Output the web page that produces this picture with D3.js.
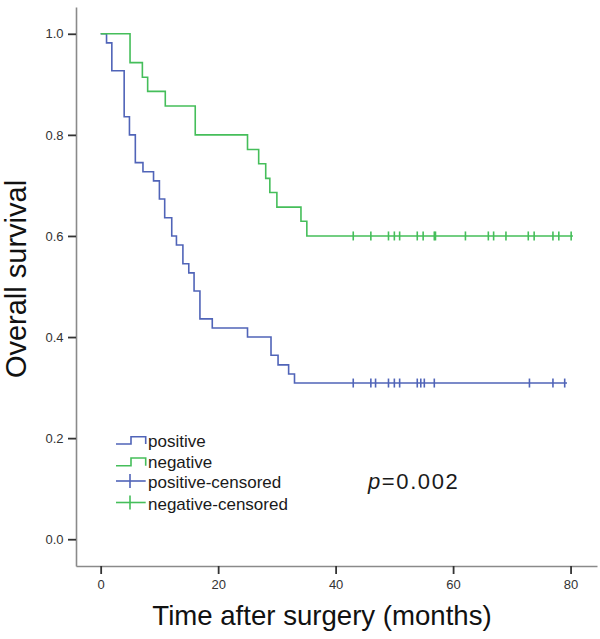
<!DOCTYPE html>
<html>
<head>
<meta charset="utf-8">
<script src="https://cdn.jsdelivr.net/npm/d3@7"></script>
<style>
  html, body { margin: 0; padding: 0; background: #fff; }
  svg { display: block; font-family: Arial, "Liberation Sans", sans-serif; }
</style>
</head>
<body>
<svg id="chart" width="600" height="639"></svg>
<script>
// ---- data ----
const posTimes = [0, 1.0, 1.9, 4.0, 4.9, 5.9, 7.2, 9.0, 10.0, 10.9, 12.1, 12.9, 14.0, 15.0, 15.9, 16.9, 19.0, 25.0, 29.0, 30.2, 32.0, 33.0];
const posSurv  = [1.0, 0.982, 0.927, 0.836, 0.800, 0.745, 0.727, 0.709, 0.673, 0.636, 0.600, 0.582, 0.545, 0.527, 0.491, 0.436, 0.418, 0.400, 0.364, 0.345, 0.327, 0.309];
const posCensored = [43.0, 46.0, 46.8, 49.0, 50.0, 50.9, 53.9, 54.5, 55.1, 56.8, 73.0, 77.0, 79.0];
const posEnd = 79.4;

const negTimes = [0, 5.0, 7.1, 8.0, 11.0, 16.1, 25.0, 26.9, 28.1, 28.8, 30.0, 34.1, 35.1];
const negSurv  = [1.0, 0.943, 0.914, 0.886, 0.857, 0.800, 0.771, 0.743, 0.714, 0.686, 0.657, 0.629, 0.600];
const negCensored = [43.0, 46.0, 49.0, 50.0, 50.9, 53.9, 54.9, 56.8, 57.0, 62.1, 66.0, 66.9, 69.0, 72.8, 73.8, 77.0, 78.0, 80.1];
const negEnd = 80.4;

const xTicks = [0, 20, 40, 60, 80];
const yTicks = [0.0, 0.2, 0.4, 0.6, 0.8, 1.0];
const legendLabels = ["positive", "negative", "positive-censored", "negative-censored"];
const pValueText = "0.002";

// ---- styles ----
const BLUE = "#5064b8";
const GREEN = "#45be5a";

const svg = d3.select("#chart");

const x = d3.scaleLinear().domain([-4.2, 84.5]).range([76, 597]);
const y = d3.scaleLinear().domain([-0.053, 1.053]).range([566, 7]);

// axes
const xAxis = d3.axisBottom(x).tickValues(xTicks).tickFormat(d3.format("d"))
  .tickSize(8).tickSizeOuter(0).tickPadding(6);
const yAxis = d3.axisLeft(y).tickValues(yTicks).tickFormat(d3.format(".1f"))
  .tickSize(8).tickSizeOuter(0).tickPadding(4.5);

const gx = svg.append("g").attr("transform", `translate(0,${y.range()[0]})`).call(xAxis);
const gy = svg.append("g").attr("transform", `translate(${x.range()[0]},0)`).call(yAxis);

[gx, gy].forEach(g => {
  g.select(".domain").attr("stroke", "#8a8a8a").attr("stroke-width", 1.6);
  g.selectAll(".tick line").attr("stroke", "#333").attr("stroke-width", 1.8);
  g.selectAll(".tick text").attr("fill", "#333").attr("font-size", 13)
    .attr("font-family", "Arial, 'Liberation Sans', sans-serif");
});

// curves
function stepPoints(times, surv, end) {
  const pts = times.map((t, i) => [t, surv[i]]);
  pts.push([end, surv[surv.length - 1]]);
  return pts;
}
const line = d3.line().x(d => x(d[0])).y(d => y(d[1])).curve(d3.curveStepAfter);

const groups = [
  { times: posTimes, surv: posSurv, cens: posCensored, end: posEnd, color: BLUE },
  { times: negTimes, surv: negSurv, cens: negCensored, end: negEnd, color: GREEN }
];

groups.forEach(g => {
  svg.append("path")
    .attr("d", line(stepPoints(g.times, g.surv, g.end)))
    .attr("fill", "none")
    .attr("stroke", g.color)
    .attr("stroke-width", 1.6);
  const last = g.surv[g.surv.length - 1];
  svg.append("g").selectAll("line").data(g.cens).join("line")
    .attr("x1", d => x(d)).attr("x2", d => x(d))
    .attr("y1", y(last) - 4.5).attr("y2", y(last) + 4.5)
    .attr("stroke", g.color).attr("stroke-width", 1.6);
});

// legend
const lg = svg.append("g").attr("transform", "translate(116,0)");
const legendRows = [
  { type: "step", color: BLUE, lineY: 444, topY: 436.7, textY: 446.5 },
  { type: "step", color: GREEN, lineY: 465.7, topY: 458, textY: 468.3 },
  { type: "cens", color: BLUE, lineY: 481, textY: 488.3 },
  { type: "cens", color: GREEN, lineY: 502.5, textY: 510 }
];
legendRows.forEach((r, i) => {
  if (r.type === "step") {
    lg.append("path")
      .attr("d", `M0,${r.lineY} H15 V${r.topY} H29.7 V${r.lineY}`)
      .attr("fill", "none").attr("stroke", r.color).attr("stroke-width", 1.6);
  } else {
    lg.append("line").attr("x1", 0).attr("x2", 29.7).attr("y1", r.lineY).attr("y2", r.lineY)
      .attr("stroke", r.color).attr("stroke-width", 1.6);
    lg.append("line").attr("x1", 14).attr("x2", 14).attr("y1", r.lineY - 7).attr("y2", r.lineY + 7)
      .attr("stroke", r.color).attr("stroke-width", 1.6);
  }
  lg.append("text").attr("x", 32).attr("y", r.textY)
    .attr("font-size", 17).attr("fill", "#1a1a1a")
    .text(legendLabels[i]);
});

// p value
const pt = svg.append("text").attr("x", 368).attr("y", 489)
  .attr("font-size", 22).attr("fill", "#1a1a1a").attr("letter-spacing", 1.6);
pt.append("tspan").attr("font-style", "italic").text("p");
pt.append("tspan").text("=" + pValueText);

// axis titles
svg.append("text")
  .attr("transform", "translate(26,279) rotate(-90)")
  .attr("text-anchor", "middle")
  .attr("font-size", 29).attr("fill", "#111")
  .text("Overall survival");

svg.append("text")
  .attr("x", 322).attr("y", 625)
  .attr("text-anchor", "middle")
  .attr("font-size", 27.6).attr("fill", "#111")
  .text("Time after surgery (months)");
</script>
</body>
</html>
